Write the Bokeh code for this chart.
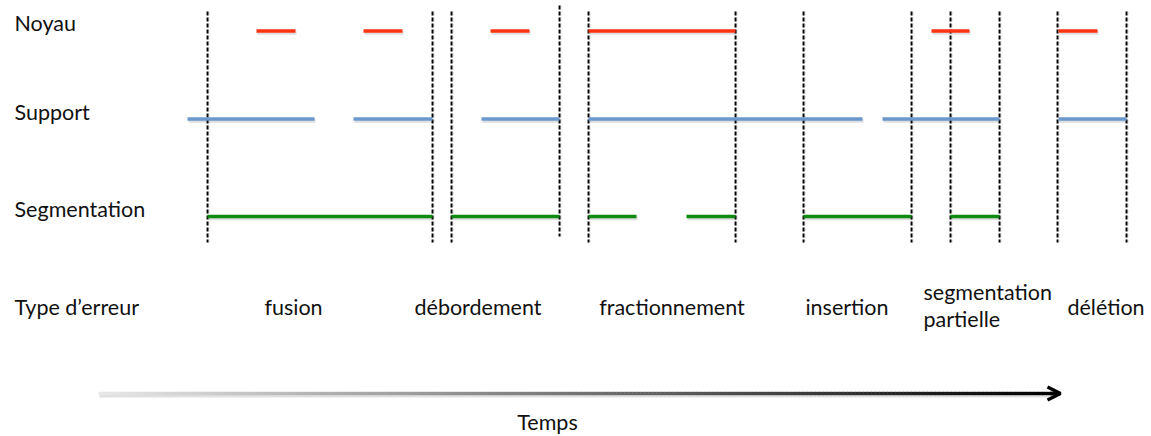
import numpy as np
from bokeh.plotting import figure
from bokeh.models import Range1d, ColumnDataSource, Arrow, OpenHead
from bokeh.core.properties import value
from bokeh.embed import file_html
from bokeh.resources import INLINE

# ---- data (time positions) ----
row_labels = ["Noyau", "Support", "Segmentation", "Type d\u2019erreur"]

noyau_start = [256, 363, 490, 588, 931, 1058]
noyau_end = [295, 402, 529, 735, 969, 1097]

support_start = [187, 353, 481, 588, 882, 1058]
support_end = [314, 432, 559, 862, 999, 1126]

segm_start = [207, 451, 588, 686, 803, 950]
segm_end = [432, 559, 636, 735, 911, 999]

boundaries = [207, 432, 451, 559, 588, 735, 803, 911, 950, 999, 1057, 1126]

error_types = ["fusion", "débordement", "fractionnement", "insertion",
               "segmentation\npartielle", "délétion"]

time_label = "Temps"

# ---- layout (positions in picture pixels) ----
row_y = [30.5, 118.5, 216]
row_label_base = [31, 120, 217, 315]
label_x = 14
err_x = [293, 477.5, 671.5, 846.5, 923, 1105.5]
err_align = ["center", "center", "center", "center", "left", "center"]
err_base = [315, 315, 315, 315, 300, 315]
line_gap = 27
bnd_top = [11 if b != 559 else 5 for b in boundaries]
bnd_bot = [242 if b != 559 else 236 for b in boundaries]
arrow_x0, arrow_x1, arrow_y = 98, 1060, 393

FONT = value("Lato")
FS = "21.5px"
TXT = "#111111"
YOFF = -9

p = figure(width=1151, height=436,
           x_range=Range1d(0, 1151), y_range=Range1d(436, 0),
           output_backend="svg", toolbar_location=None,
           x_axis_location=None, y_axis_location=None, min_border=0)
p.grid.visible = False
p.outline_line_color = None
p.background_fill_color = "white"
p.border_fill_color = "white"

# dashed boundaries (with faint shadow)
p.segment(x0=[b + 1 for b in boundaries], y0=bnd_top, x1=[b + 1 for b in boundaries], y1=bnd_bot,
          line_color="#000000", line_alpha=0.15, line_width=2, line_dash="4 2")
p.segment(x0=boundaries, y0=bnd_top, x1=boundaries, y1=bnd_bot,
          line_color="#000000", line_width=1.9, line_dash="4 2")

series = [
    (noyau_start, noyau_end, row_y[0], "#FF3311"),
    (support_start, support_end, row_y[1], "#6A98CC"),
    (segm_start, segm_end, row_y[2], "#118A11"),
]
for s, e, y, c in series:
    ys = [y] * len(s)
    # soft shadow
    p.segment(x0=[v + 1 for v in s], y0=[y + 1.8] * len(s),
              x1=[v + 1 for v in e], y1=[y + 1.8] * len(s),
              line_color="#000000", line_alpha=0.13, line_width=4)
    p.segment(x0=s, y0=ys, x1=e, y1=ys, line_color=c, line_width=3.6,
              line_cap="butt")

# row labels
p.text(x=[label_x] * len(row_labels), y=row_label_base, text=row_labels,
       text_font=FONT, text_font_size=FS, text_color=TXT, y_offset=YOFF,
       text_align="left", text_baseline="alphabetic")

# error type labels (split multi-line labels)
ex, ey, et, ea = [], [], [], []
for x, b, t, a in zip(err_x, err_base, error_types, err_align):
    for i, line in enumerate(t.split("\n")):
        ex.append(x); ey.append(b + i * line_gap); et.append(line); ea.append(a)
err_src = ColumnDataSource(dict(x=ex, y=ey, t=et, a=ea))
p.text(x="x", y="y", text="t", text_align="a", source=err_src,
       text_font=FONT, text_font_size=FS, text_color=TXT, y_offset=YOFF,
       text_baseline="alphabetic")

# time arrow with grey -> black gradient
n = 240
gx = np.linspace(arrow_x0, arrow_x1 - 6, n + 1)
levels = np.linspace(232, 0, n).astype(int)
cols = ["#%02x%02x%02x" % (l, l, l) for l in levels]
p.segment(x0=gx[:-1] + 1, y0=[arrow_y + 2] * n, x1=gx[1:] + 1, y1=[arrow_y + 2] * n,
          line_color="#000000", line_alpha=0.12, line_width=4)
p.segment(x0=gx[:-1], y0=[arrow_y] * n, x1=gx[1:] + 0.5, y1=[arrow_y] * n,
          line_color=cols, line_width=3.4)
p.add_layout(Arrow(end=OpenHead(size=13, line_color="#000000", line_width=3.2),
                   x_start=arrow_x1 - 10, y_start=arrow_y, x_end=arrow_x1, y_end=arrow_y,
                   line_color="#000000", line_width=3.4))

p.text(x=[547], y=[430], text=[time_label], text_font=FONT, text_font_size=FS,
       text_color=TXT, text_align="center", text_baseline="alphabetic", y_offset=YOFF)

open("out.html", "w").write(file_html(p, INLINE))
